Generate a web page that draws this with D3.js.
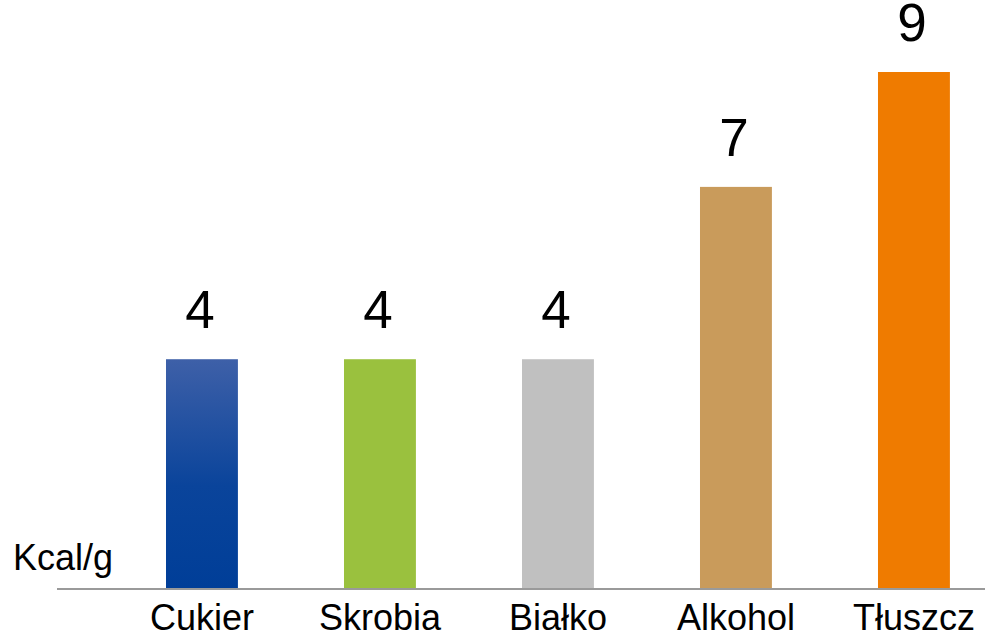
<!DOCTYPE html>
<html>
<head>
<meta charset="utf-8">
<script src="https://cdn.jsdelivr.net/npm/d3@7"></script>
<style>
  html, body { margin: 0; padding: 0; background: #fff; }
  svg { display: block; font-family: "Liberation Sans", Arial, sans-serif; }
</style>
</head>
<body>
<svg id="chart" width="985" height="635"></svg>
<script>
const categories = ["Cukier", "Skrobia", "Białko", "Alkohol", "Tłuszcz"];
const values = [4, 4, 4, 7, 9];
const colors = ["url(#gradCukier)", "#9ac13e", "#c0c0c0", "#c99b5b", "#ef7b00"];
const unitLabel = "Kcal/g";

const svg = d3.select("#chart");
const defs = svg.append("defs");
const grad = defs.append("linearGradient")
  .attr("id", "gradCukier")
  .attr("x1", 0).attr("y1", 0).attr("x2", 0).attr("y2", 1);
grad.append("stop").attr("offset", "0%").attr("stop-color", "#3e60a8");
grad.append("stop").attr("offset", "55%").attr("stop-color", "#0a449b");
grad.append("stop").attr("offset", "100%").attr("stop-color", "#003e98");

const baseY = 589;
const x = d3.scaleBand()
  .domain(categories)
  .range([112.6, 1003.3])
  .paddingInner(0.596)
  .paddingOuter(0.3);

const y = d3.scaleLinear().domain([0, 9]).range([baseY, 72]);

const data = categories.map((c, i) => ({ c, v: values[i], color: colors[i] }));

// bars
svg.append("g").selectAll("rect")
  .data(data)
  .join("rect")
  .attr("x", d => x(d.c))
  .attr("y", d => y(d.v))
  .attr("width", x.bandwidth())
  .attr("height", d => y(0) - y(d.v))
  .attr("fill", d => d.color);

// value labels
svg.append("g").selectAll("text")
  .data(data)
  .join("text")
  .attr("x", d => x(d.c) + x.bandwidth() / 2 - 2)
  .attr("y", d => y(d.v) - 31)
  .attr("text-anchor", "middle")
  .attr("font-size", 53)
  .attr("fill", "#000")
  .text(d => d.v);

// baseline
svg.append("line")
  .attr("x1", 57).attr("x2", 985)
  .attr("y1", baseY).attr("y2", baseY)
  .attr("stroke", "#9a9a9a")
  .attr("stroke-width", 2);

// category axis
const axis = svg.append("g")
  .attr("transform", `translate(0,${baseY})`)
  .call(d3.axisBottom(x).tickSize(0).tickPadding(0));
axis.select(".domain").remove();
axis.selectAll("text")
  .attr("font-size", 36)
  .attr("font-family", "'Liberation Sans', Arial, sans-serif")
  .attr("fill", "#000")
  .attr("dy", null)
  .attr("y", 41);

// unit label
svg.append("text")
  .attr("x", 13)
  .attr("y", 570)
  .attr("font-size", 36)
  .attr("fill", "#000")
  .text(unitLabel);
</script>
</body>
</html>
